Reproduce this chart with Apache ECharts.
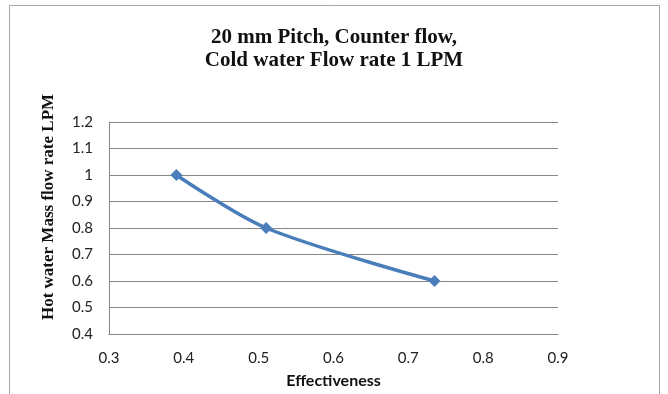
<!DOCTYPE html>
<html>
<head>
<meta charset="utf-8">
<script src="https://cdn.jsdelivr.net/npm/echarts@6/dist/echarts.min.js"></script>
<style>
html,body{margin:0;padding:0;background:#fff;}
#chart{width:668px;height:394px;}
</style>
</head>
<body>
<div id="chart"></div>
<script>
const titleLines = ['20 mm Pitch, Counter flow,', 'Cold water Flow rate 1 LPM'];
const xAxisName = 'Effectiveness';
const yAxisName = 'Hot water Mass flow rate LPM';
const effectiveness = [0.39, 0.51, 0.735];
const hotWaterFlow = [1.0, 0.8, 0.6];
const xTickLabels = ['0.3', '0.4', '0.5', '0.6', '0.7', '0.8', '0.9'];
const yTickLabels = ['0.4', '0.5', '0.6', '0.7', '0.8', '0.9', '1', '1.1', '1.2'];

const chart = echarts.init(document.getElementById('chart'), null, {renderer: 'canvas'});
const labelFont = {fontFamily: 'Lato, "Open Sans", sans-serif', fontSize: 15, color: '#222'};

chart.setOption({
  animation: false,
  backgroundColor: '#fff',
  title: {
    text: titleLines.join('\n'),
    left: 'center',
    top: 21,
    textStyle: {fontFamily: '"Liberation Serif", serif', fontWeight: 'bold', fontSize: 21, lineHeight: 23, color: '#111'}
  },
  graphic: [
    {type: 'rect', shape: {x: 9.5, y: 5.5, width: 650, height: 420}, style: {fill: 'none', stroke: '#a6a6a6', lineWidth: 1}, silent: true},
    {type: 'text', x: 49, y: 207, rotation: Math.PI / 2, silent: true,
     style: {text: yAxisName, fontFamily: '"Liberation Serif", serif', fontWeight: 'bold', fontSize: 17, fill: '#111', align: 'center', verticalAlign: 'middle'}}
  ],
  grid: {left: 109, top: 122, right: 110, bottom: 57, containLabel: false},
  xAxis: {
    type: 'value', min: 0.3, max: 0.9, interval: 0.1,
    name: xAxisName, nameLocation: 'middle', nameGap: 39,
    nameTextStyle: {fontFamily: 'Lato, "Open Sans", sans-serif', fontWeight: 'bold', fontSize: 16, color: '#111'},
    axisLine: {show: true, lineStyle: {color: '#868686', width: 1}},
    axisTick: {show: false},
    splitLine: {show: false},
    axisLabel: Object.assign({margin: 17, formatter: v => xTickLabels[Math.round((v - 0.3) * 10)]}, labelFont)
  },
  yAxis: {
    type: 'value', min: 0.4, max: 1.2, interval: 0.1,
    axisLine: {show: true, lineStyle: {color: '#868686', width: 1}},
    axisTick: {show: false},
    splitLine: {show: true, lineStyle: {color: '#868686', width: 1}},
    axisLabel: Object.assign({margin: 16, formatter: v => yTickLabels[Math.round((v - 0.4) * 10)]}, labelFont)
  },
  series: [{
    type: 'line',
    data: effectiveness.map((x, i) => [x, hotWaterFlow[i]]),
    smooth: 0.3,
    symbol: 'diamond',
    symbolSize: 12,
    lineStyle: {color: '#4A7EBB', width: 3.5},
    itemStyle: {color: '#4A7EBB'}
  }]
});
</script>
</body>
</html>
